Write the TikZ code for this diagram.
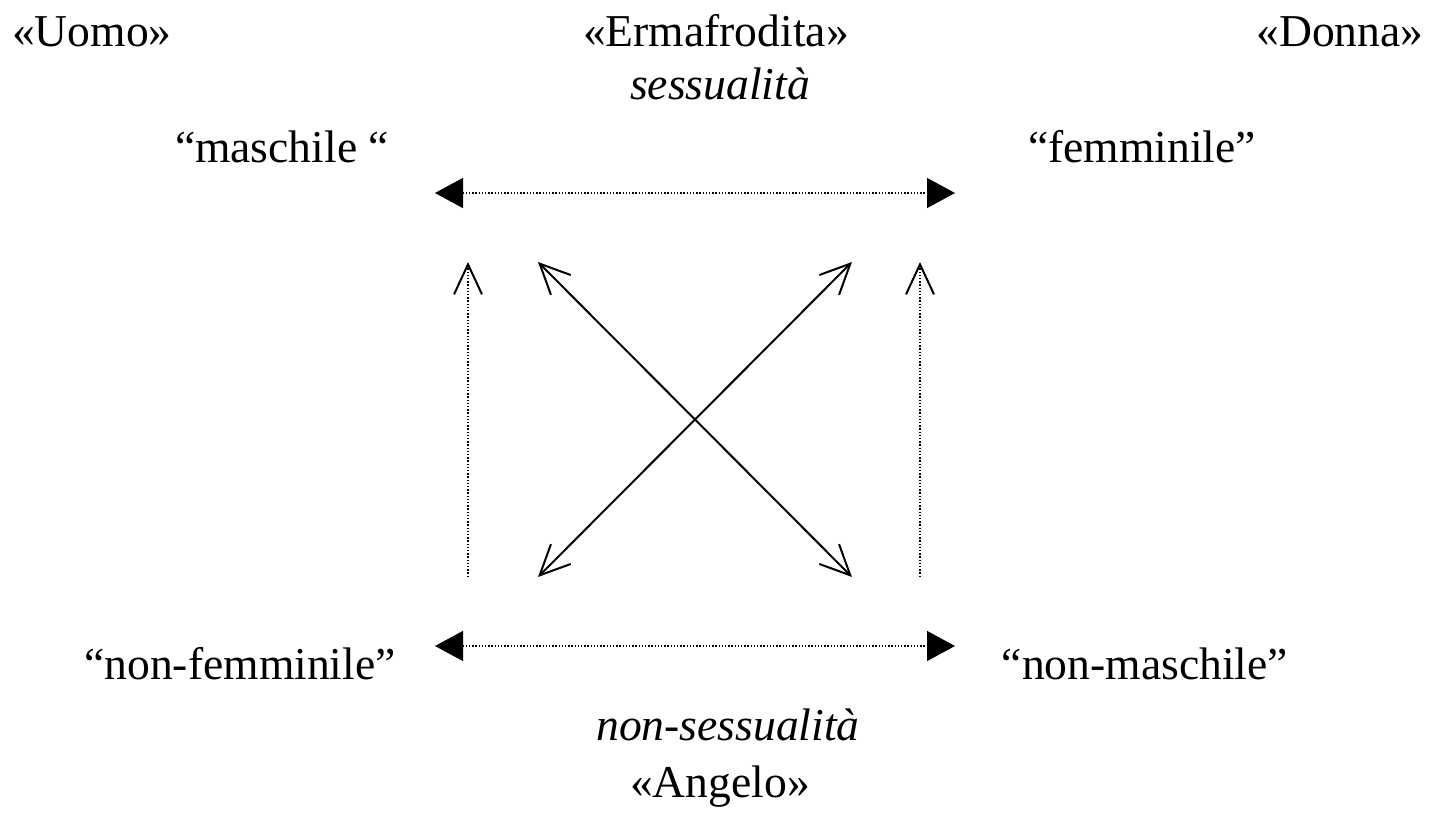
\documentclass[tikz,border=0pt]{standalone}
\usepackage{fontspec}
\setmainfont{Liberation Serif}
\usetikzlibrary{arrows.meta}
\begin{document}
\begin{tikzpicture}[x=0.5pt,y=-0.5pt,
  lab/.style={inner sep=0pt,anchor=base,font=\fontsize{22.8}{27}\selectfont},
  dotl/.style={line width=0.7pt,dash pattern=on 0.7pt off 0.9pt},
  dotarrow/.style={dotl,{Triangle[length=14pt,width=15pt]}-{Triangle[length=14pt,width=15pt]}},
  vdot/.style={dotl,-{Straight Barb[length=15pt,width=14pt,line width=1pt]}},
  diag/.style={line width=1pt,{Straight Barb[length=15pt,width=14pt]}-{Straight Barb[length=15pt,width=14pt]}}]
\useasboundingbox (0,0) rectangle (1432,813);
\node[lab] (uomo) at (92,47) {«Uomo»};
\node[lab] (erma) at (716,47) {«Ermafrodita»};
\node[lab] (sess) at (720,100) {\itshape sessualità};
\node[lab] (donna) at (1340,47) {«Donna»};
\node[lab] (masch) at (282,163) {“maschile “};
\node[lab] (femm) at (1142,163) {“femminile”};
\node[lab] (nonfemm) at (240,679) {“non-femminile”};
\node[lab] (nonmasch) at (1145,679) {“non-maschile”};
\node[lab] (nonsess) at (728,740) {\itshape non-sessualità};
\node[lab] (angelo) at (720,797) {«Angelo»};
\coordinate (tl) at (435,193); \coordinate (tr) at (955,193);
\coordinate (bl) at (435,646); \coordinate (br) at (955,646);
\coordinate (vl0) at (468,577); \coordinate (vl1) at (468,262);
\coordinate (vr0) at (920,577); \coordinate (vr1) at (920,262);
\coordinate (d1a) at (538,262); \coordinate (d1b) at (852,577);
\coordinate (d2a) at (852,262); \coordinate (d2b) at (538,577);
\draw[dotarrow] (tl) -- (tr);
\draw[dotarrow] (bl) -- (br);
\draw[vdot] (vl0) -- (vl1);
\draw[vdot] (vr0) -- (vr1);
\draw[diag] (d1a) -- (d1b);
\draw[diag] (d2a) -- (d2b);
\end{tikzpicture}
\end{document}
